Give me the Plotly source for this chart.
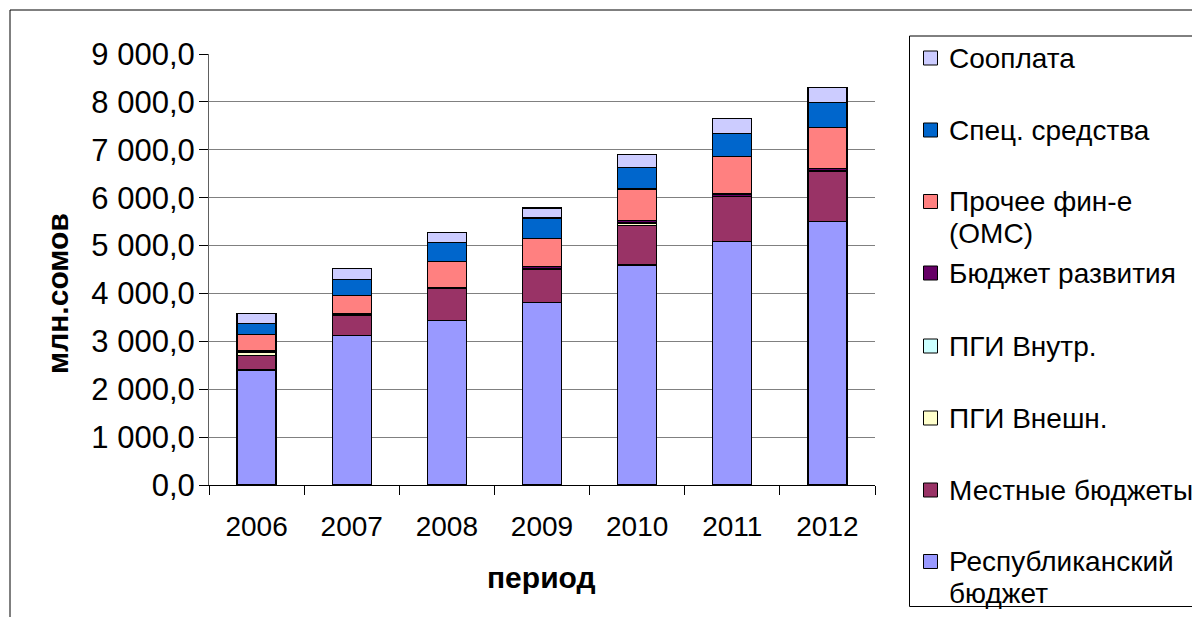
import plotly.graph_objects as go

W, H = 1200, 617
OFF = 8  # the page body adds an 8px offset; compensate in paper coordinates

years = ["2006", "2007", "2008", "2009", "2010", "2011", "2012"]

# series, bottom to top of the stack
resp_budget = [2400, 3115, 3430, 3806, 4593, 5080, 5500]
local_budget = [300, 420, 676, 697, 829, 940, 1055]
pgi_ext = [60, 10, 5, 5, 50, 5, 5]
pgi_int = [5, 3, 3, 3, 5, 3, 3]
dev_budget = [35, 37, 2, 47, 41, 46, 49]
oms = [346, 367, 546, 592, 662, 780, 848]
spec = [230, 342, 396, 424, 445, 488, 530]
cofin = [209, 230, 217, 209, 279, 314, 312]

names = ["Республиканский бюджет", "Местные бюджеты", "ПГИ Внешн.", "ПГИ Внутр.",
         "Бюджет развития", "Прочее фин-е (ОМС)", "Спец. средства", "Сооплата"]
legend_text = ["Республиканский<br>бюджет", "Местные бюджеты", "ПГИ Внешн.", "ПГИ Внутр.",
               "Бюджет развития", "Прочее фин-е<br>(ОМС)", "Спец. средства", "Сооплата"]
colors = ["#9999FF", "#993366", "#FFFFCC", "#CCFFFF", "#660066", "#FF8080", "#0066CC", "#CCCCFF"]
series = [resp_budget, local_budget, pgi_ext, pgi_int, dev_budget, oms, spec, cofin]

y_ticks = [0, 1000, 2000, 3000, 4000, 5000, 6000, 7000, 8000, 9000]

FONT = "Arial, Liberation Sans, sans-serif"
FS = 28
FY = 31
FT = 30

fig = go.Figure()
for name, vals, col in zip(names, series, colors):
    fig.add_trace(go.Bar(
        x=years, y=vals, name=name, showlegend=False,
        marker=dict(color=col, line=dict(color="black", width=1.3)),
        hoverinfo="x+y+name",
    ))


def px(x):
    return (x - OFF) / W


def py(y):
    return 1 - (y - OFF) / H


shapes = [
    # outer chart frame
    dict(type="rect", xref="paper", yref="paper", x0=px(10), x1=px(1230), y0=py(10), y1=py(660),
         line=dict(color="black", width=1), fillcolor="rgba(0,0,0,0)", layer="below"),
    # legend box
    dict(type="rect", xref="paper", yref="paper", x0=px(909.5), x1=px(1230), y0=py(36), y1=py(606.5),
         line=dict(color="black", width=1), fillcolor="white", layer="below"),
]
annotations = []

# legend entries (top to bottom), first-line centre positions
legend_y = [58, 130, 201.5, 273, 346, 418, 490, 561.5]
LINE = 31.5
order = list(range(len(names)))[::-1]
for yc, i in zip(legend_y, order):
    shapes.append(dict(type="rect", xref="paper", yref="paper",
                       x0=px(923.5), x1=px(937.5), y0=py(yc - 7), y1=py(yc + 7),
                       line=dict(color="black", width=1), fillcolor=colors[i]))
    for k, line in enumerate(legend_text[i].split("<br>")):
        annotations.append(dict(xref="paper", yref="paper", x=px(947), y=py(yc + k * LINE),
                                xanchor="left", yanchor="middle", showarrow=False, align="left",
                                text=line, font=dict(family=FONT, size=FS, color="black")))

annotations.append(dict(xref="paper", yref="paper", x=px(58), y=py(294), textangle=-90,
                        showarrow=False, xanchor="center", yanchor="middle",
                        text="<b>млн.сомов</b>", font=dict(family=FONT, size=FT, color="black")))
annotations.append(dict(xref="paper", yref="paper", x=px(541), y=py(577),
                        showarrow=False, xanchor="center", yanchor="middle",
                        text="<b>период</b>", font=dict(family=FONT, size=FT, color="black")))

fig.update_layout(
    width=W, height=H,
    margin=dict(l=0, r=0, t=0, b=0, pad=0),
    paper_bgcolor="white", plot_bgcolor="white",
    barmode="stack", bargap=0.59,
    separators=", ",
    font=dict(family=FONT, size=FS, color="black"),
    shapes=shapes, annotations=annotations,
    xaxis=dict(domain=[px(209), px(875)], type="category", automargin=False,
               showline=True, linecolor="black", linewidth=1,
               ticks="outside", tickson="boundaries", ticklen=9, tickcolor="black",
               tickfont=dict(family=FONT, size=FS, color="black"),
               ticklabelstandoff=16, showgrid=False),
    yaxis=dict(domain=[py(485), py(54)], range=[0, 9000], tickvals=y_ticks, automargin=False,
               tickformat=",.1f", showline=True, linecolor="#606060", linewidth=1,
               ticks="outside", ticklen=9, tickcolor="black",
               showgrid=True, gridcolor="#808080", gridwidth=1, zeroline=False,
               tickfont=dict(family=FONT, size=FY, color="black"),
               ticklabelstandoff=-2),
)

fig.write_html("out.html")
